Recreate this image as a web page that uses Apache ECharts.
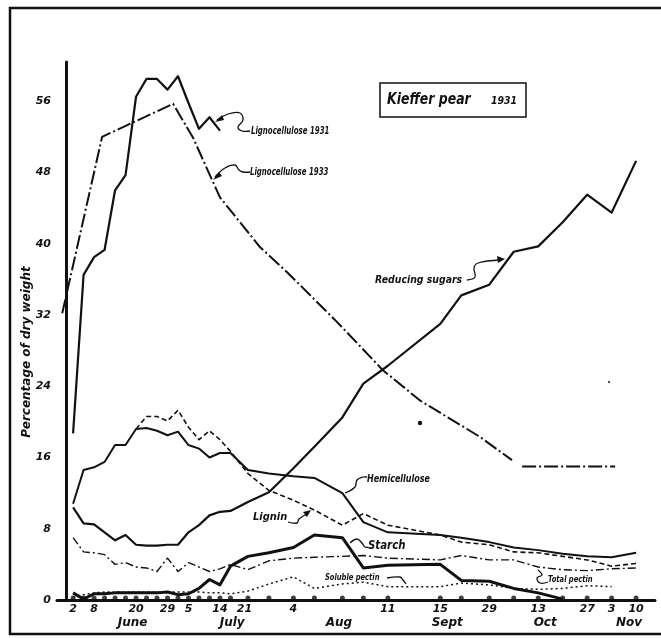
<!doctype html>
<html lang="en">
<head>
<meta charset="UTF-8">
<title>Kieffer pear 1931</title>
<style>
	html, body { margin: 0; padding: 0; background: #fff; }
	#main { width: 661px; height: 638px; }
</style>
</head>
<body>
<div id="main"></div>
<script src="https://cdn.jsdelivr.net/npm/echarts@6/dist/echarts.min.js"></script>
<script>
// sample dates as days counted from 31 May (June 2 = 2, July 5 = 35, Aug 4 = 65 ...)
var sampleDays = [2, 5, 8, 11, 14, 17, 20, 23, 26, 29, 32, 35, 38, 41, 44, 47, 52, 58, 65, 71, 79, 85, 92, 107, 113, 121, 128, 135, 142, 149, 156, 163];

// percentage of dry weight, one value per sample date (null = not drawn)
var ligno1931 = [18.7, 36.5, 38.5, 39.3, 46.0, 47.7, 56.5, 58.5, 58.5, 57.3, 58.8, 55.8, 52.9, 54.2, 52.7];
var reducingSugars = [10.4, 8.6, 8.5, 7.6, 6.7, 7.3, 6.2, 6.1, 6.1, 6.2, 6.2, 7.6, 8.4, 9.5, 9.9, 10.0, 11.0, 12.1, 14.8, 17.2, 20.5, 24.3, 26.3, 31.0, 34.2, 35.4, 39.1, 39.7, 42.4, 45.5, 43.5, 49.3];
var hemicellulose = [10.8, 14.6, 14.9, 15.5, 17.4, 17.4, 19.2, 19.3, 19.0, 18.5, 18.9, 17.4, 17.0, 16.0, 16.5, 16.5, 14.6, 14.2, 13.9, 13.7, 12.0, 8.75, 7.6, 7.3, 7.0, 6.5, 5.9, 5.6, 5.2, 4.9, 4.8, 5.3];
var lignin = [null, null, null, null, null, null, 19.2, 20.6, 20.6, 20.1, 21.3, 19.4, 18.0, 19.0, 18.0, 16.7, 14.2, 12.3, 11.2, 10.1, 8.4, 9.7, 8.4, 7.3, 6.5, 6.2, 5.4, 5.3, 4.9, 4.5, 3.8, 4.1];
var starch = [0.8, 0.1, 0.7, 0.7, 0.8, 0.8, 0.8, 0.8, 0.8, 0.9, 0.6, 0.7, 1.3, 2.3, 1.7, 3.8, 4.9, 5.3, 5.9, 7.3, 7.0, 3.6, 3.9, 4.0, 2.2, 2.1, 1.3, 0.8, 0.1];
var totalPectin = [7.0, 5.4, 5.3, 5.1, 4.0, 4.2, 3.7, 3.6, 3.2, 4.7, 3.2, 4.2, 3.7, 3.2, 3.5, 4.0, 3.4, 4.4, 4.7, 4.8, 4.9, 5.0, 4.7, 4.5, 5.0, 4.5, 4.5, 3.7, 3.4, 3.3, 3.5, 3.6];
var solublePectin = [0.3, 0.6, 0.8, 0.9, 0.9, 0.9, 0.9, 0.9, 0.9, 0.9, 0.9, 0.9, 0.9, 0.8, 0.8, 0.7, 1.0, 1.8, 2.6, 1.3, 1.8, 2.0, 1.5, 1.5, 1.9, 1.7, 1.3, 1.2, 1.3, 1.6, 1.5];

// the 1933 lignocellulose curve has its own dates
var ligno1933Days = [-1.1, 10.3, 30.6, 36.3, 44.0, 55.5, 63.2, 77.5, 90.6, 101.2, 118.4, 127.5, 129, 130.4, 157];
var ligno1933 = [32.2, 52.0, 55.7, 51.9, 45.2, 39.6, 36.8, 31.2, 25.8, 22.4, 18.3, 15.7, null, 15.0, 15.0];

// axis labels
var tickDays = [2, 8, 20, 29, 35, 44, 51, 65, 92, 107, 121, 135, 149, 156, 163];
var tickLabels = ['2', '8', '20', '29', '5', '14', '21', '4', '11', '15', '29', '13', '27', '3', '10'];
var monthDays = [19, 47.5, 78, 109, 137, 161];
var monthLabels = ['June', 'July', 'Aug', 'Sept', 'Oct', 'Nov'];
var yTicks = [0, 8, 16, 24, 32, 40, 48, 56];

var ink = '#111';
var fam = '"DejaVu Sans", sans-serif';

function pairs(vals) {
	var out = [];
	sampleDays.forEach(function (d, i) {
		if (vals[i] !== undefined && vals[i] !== null) out.push([d, vals[i]]);
	});
	return out;
}

function line(name, data, width, type) {
	return {
		name: name,
		type: 'line',
		data: data,
		symbol: 'none',
		connectNulls: false,
		lineStyle: { color: ink, width: width, type: type || 'solid', cap: 'butt', join: 'round' },
		silent: true
	};
}

function label(text, x, y, size, sx) {
	return {
		type: 'text', x: x, y: y, scaleX: sx, z: 20,
		style: {
			text: text, x: 0, y: 0, fill: ink,
			font: 'italic bold ' + size + 'px ' + fam,
			textAlign: 'left', textVerticalAlign: 'middle'
		}
	};
}

function leader(points) {
	return {
		type: 'polyline', z: 20,
		shape: { points: points, smooth: 0.4 },
		style: { stroke: ink, lineWidth: 1.3, fill: null }
	};
}

function arrow(points) {
	return { type: 'polygon', z: 20, shape: { points: points }, style: { fill: ink } };
}

var myChart = echarts.init(document.getElementById('main'), null, { renderer: 'canvas' });

var option = {
	backgroundColor: '#fff',
	animation: false,
	grid: { left: 57, right: 6, top: 62, bottom: 38, containLabel: false, outerBoundsMode: 'none' },
	xAxis: [
		{
			type: 'value', min: -2.6, max: 168.4,
			axisLine: { lineStyle: { color: ink, width: 3 } },
			axisTick: { show: false },
			splitLine: { show: false },
			axisLabel: {
				customValues: tickDays,
				margin: 4,
				color: ink,
				fontStyle: 'italic', fontWeight: 'bold', fontSize: 11, fontFamily: fam,
				formatter: function (v) { var i = tickDays.indexOf(v); return i < 0 ? '' : tickLabels[i]; }
			}
		},
		{
			type: 'value', min: -2.6, max: 168.4, position: 'bottom', offset: 0,
			axisLine: { show: false },
			axisTick: { show: false },
			splitLine: { show: false },
			axisLabel: {
				customValues: monthDays,
				margin: 17,
				color: ink,
				fontStyle: 'italic', fontWeight: 'bold', fontSize: 12, fontFamily: fam,
				formatter: function (v) { var i = monthDays.indexOf(v); return i < 0 ? '' : monthLabels[i]; }
			}
		}
	],
	yAxis: {
		type: 'value', min: 0, max: 60.4,
		axisLine: { show: true, lineStyle: { color: ink, width: 3 } },
		axisTick: { show: false },
		splitLine: { show: false },
		axisLabel: {
			customValues: yTicks,
			margin: 6,
			color: ink,
			fontStyle: 'italic', fontWeight: 'bold', fontSize: 11, fontFamily: fam
		}
	},
	series: [
		line('Lignocellulose 1931', pairs(ligno1931), 2.2),
		line('Lignocellulose 1933', ligno1933Days.map(function (d, i) { return [d, ligno1933[i]]; }), 2, [14, 3, 2, 3]),
		line('Reducing sugars', pairs(reducingSugars), 2.2),
		line('Hemicellulose', pairs(hemicellulose), 2),
		line('Lignin', pairs(lignin), 1.6, [5, 3]),
		line('Starch', pairs(starch), 3),
		line('Total pectin', pairs(totalPectin), 1.4, [8, 3, 2, 3]),
		line('Soluble pectin', pairs(solublePectin), 1.5, [2, 3]),
		{
			name: 'samples',
			type: 'scatter',
			data: sampleDays.map(function (d) { return [d, 0]; }),
			symbol: 'circle',
			symbolSize: 5,
			symbolOffset: [0, -2],
			itemStyle: { color: ink },
			clip: false,
			silent: true,
			z: 5
		}
	],
	graphic: [
		// outer frame of the plate
		{ type: 'rect', z: 1, shape: { x: 10, y: 8, width: 700, height: 626 }, style: { fill: null, stroke: ink, lineWidth: 2.5 } },
		// title box
		{ type: 'rect', z: 20, shape: { x: 380, y: 83, width: 146, height: 34 }, style: { fill: '#fff', stroke: ink, lineWidth: 1.5 } },
		label('Kieffer pear', 387, 100, 16, 0.78),
		label('1931', 491, 101, 11, 0.85),
		// y axis title
		{
			type: 'text', x: 27, y: 352, rotation: Math.PI / 2, z: 20,
			style: { text: 'Percentage of dry weight', x: 0, y: 0, fill: ink, font: 'italic bold 12px ' + fam, textAlign: 'center', textVerticalAlign: 'middle' }
		},
		// curve labels
		label('Lignocellulose 1931', 251, 131, 10, 0.7),
		leader([[217, 120], [228, 114], [240, 113], [243, 120], [238, 127], [242, 131], [250, 131]]),
		arrow([[215, 122], [222, 115], [224, 120]]),
		label('Lignocellulose 1933', 250, 172, 10, 0.7),
		leader([[215, 177], [225, 168], [235, 165], [239, 170], [243, 172], [250, 172]]),
		arrow([[213, 180], [219, 172], [222, 176]]),
		label('Reducing sugars', 375, 280, 11, 0.85),
		leader([[467, 280], [475, 277], [474, 268], [478, 263], [500, 260]]),
		arrow([[505, 259], [497, 256], [498, 263]]),
		label('Hemicellulose', 367, 479, 10, 0.8),
		leader([[345, 493], [355, 487], [357, 480], [363, 477], [367, 477]]),
		label('Lignin', 253, 517, 11, 0.9),
		leader([[288, 522], [297, 523], [299, 519], [307, 514]]),
		arrow([[311, 510], [303, 512], [307, 517]]),
		label('Starch', 368, 546, 12, 0.85),
		leader([[350, 543], [357, 539], [362, 543], [365, 547], [368, 547]]),
		label('Soluble pectin', 325, 578, 9, 0.75),
		leader([[387, 578], [400, 577], [403, 580], [406, 584]]),
		label('Total pectin', 548, 580, 9, 0.75),
		leader([[548, 582], [540, 583], [537, 578], [542, 575], [538, 570]]),
		// stray specks on the plate
		{ type: 'circle', z: 20, shape: { cx: 420, cy: 423, r: 2.2 }, style: { fill: ink } },
		{ type: 'circle', z: 20, shape: { cx: 609, cy: 382, r: 1 }, style: { fill: ink } }
	]
};

myChart.setOption(option);
</script>
</body>
</html>
